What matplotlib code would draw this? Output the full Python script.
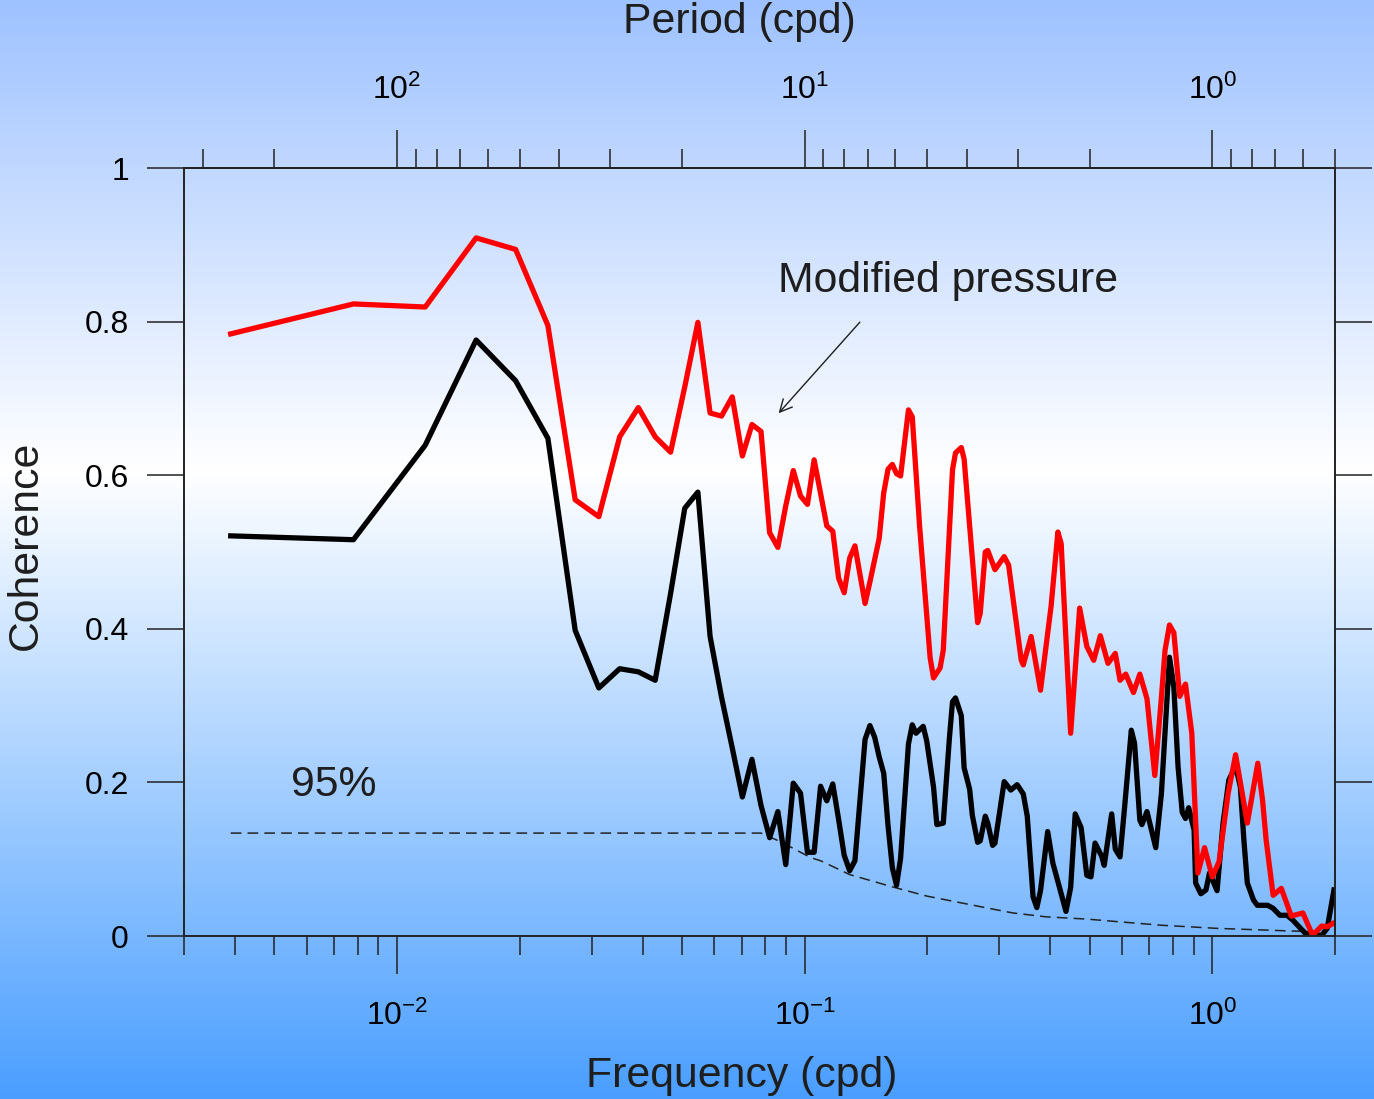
import numpy as np
import matplotlib
matplotlib.use("Agg")
import matplotlib.pyplot as plt
from matplotlib.ticker import FixedLocator, FuncFormatter, NullFormatter, LogFormatterSciNotation

plt.rcParams['font.family'] = ['Liberation Sans', 'DejaVu Sans']
plt.rcParams['mathtext.fontset'] = 'custom'
plt.rcParams['mathtext.rm'] = 'Liberation Sans'
plt.rcParams['mathtext.default'] = 'regular'
plt.rcParams['axes.unicode_minus'] = False

# spectral bins, frequency = k / 256 cpd
DF = 1.0 / 256

# modified pressure (red)
red_k = [1, 2, 3, 4, 5, 6, 7, 8, 9, 10, 11, 12, 13, 14, 15, 16, 17, 18, 19, 20,
         21, 22, 23, 24, 25, 26, 27, 29, 30, 31, 32, 33, 34, 36, 37, 39, 40, 41, 42, 43,
         44, 46, 47, 49, 52, 53, 55, 56, 59, 60, 62, 63, 68, 69, 71, 72, 75, 79, 81, 87,
         88, 92, 97, 103, 107, 109, 115, 121, 126, 131, 136, 142, 148, 152, 157, 164, 170, 177, 185, 192,
         196, 201, 206, 213, 220, 228, 236, 245, 256, 266, 280, 292, 312, 331, 340, 347, 361, 378, 400, 427,
         451, 475, 490, 509]
red_coh = [0.784, 0.823, 0.819, 0.909, 0.894, 0.795, 0.568, 0.546, 0.650, 0.688, 0.650, 0.630, 0.715, 0.799, 0.681, 0.677, 0.702, 0.625, 0.666, 0.657,
           0.525, 0.506, 0.560, 0.606, 0.573, 0.562, 0.620, 0.534, 0.527, 0.466, 0.447, 0.492, 0.508, 0.433, 0.461, 0.518, 0.577, 0.608, 0.614, 0.602,
           0.599, 0.685, 0.676, 0.533, 0.362, 0.336, 0.349, 0.372, 0.607, 0.629, 0.636, 0.621, 0.408, 0.420, 0.500, 0.502, 0.477, 0.494, 0.483, 0.359,
           0.353, 0.390, 0.320, 0.430, 0.526, 0.511, 0.264, 0.427, 0.377, 0.359, 0.391, 0.355, 0.368, 0.333, 0.341, 0.317, 0.341, 0.309, 0.209, 0.310,
           0.372, 0.405, 0.395, 0.312, 0.328, 0.264, 0.082, 0.115, 0.077, 0.097, 0.186, 0.236, 0.147, 0.225, 0.177, 0.125, 0.053, 0.062, 0.026, 0.030,
           0.001, 0.013, 0.012, 0.017]

# raw pressure (black)
blk_k = [1, 2, 3, 4, 5, 6, 7, 8, 9, 10, 11, 12, 13, 14, 15, 16, 17, 18, 19, 20,
         21, 22, 23, 24, 25, 26, 27, 28, 29, 30, 31, 32, 33, 34, 36, 37, 38, 39, 40, 41,
         42, 43, 44, 46, 47, 48, 50, 51, 53, 54, 56, 58, 59, 60, 62, 63, 65, 66, 68, 69,
         71, 72, 74, 75, 79, 82, 85, 88, 90, 93, 95, 97, 101, 104, 108, 112, 115, 118, 122, 126,
         129, 132, 137, 139, 145, 148, 152, 156, 162, 165, 170, 172, 177, 186, 192, 201, 206, 211, 216, 220,
         224, 231, 233, 240, 247, 252, 263, 272, 281, 292, 300, 306, 312, 323, 330, 350, 361, 375, 390, 403,
         418, 433, 460, 475, 490, 509]
blk_coh = [0.521, 0.516, 0.639, 0.776, 0.723, 0.648, 0.398, 0.323, 0.348, 0.344, 0.333, 0.446, 0.557, 0.578, 0.390, 0.311, 0.245, 0.181, 0.230, 0.170,
           0.128, 0.162, 0.093, 0.199, 0.186, 0.109, 0.109, 0.195, 0.176, 0.198, 0.152, 0.105, 0.085, 0.098, 0.256, 0.274, 0.259, 0.233, 0.212, 0.143,
           0.089, 0.066, 0.101, 0.250, 0.275, 0.264, 0.273, 0.254, 0.194, 0.145, 0.147, 0.259, 0.305, 0.310, 0.287, 0.219, 0.191, 0.157, 0.122, 0.124,
           0.156, 0.147, 0.118, 0.121, 0.201, 0.190, 0.197, 0.185, 0.156, 0.051, 0.037, 0.059, 0.136, 0.095, 0.063, 0.032, 0.063, 0.159, 0.141, 0.079,
           0.077, 0.121, 0.104, 0.092, 0.159, 0.113, 0.103, 0.168, 0.268, 0.251, 0.151, 0.145, 0.162, 0.115, 0.185, 0.363, 0.324, 0.220, 0.161, 0.153,
           0.167, 0.138, 0.069, 0.055, 0.060, 0.082, 0.059, 0.147, 0.203, 0.221, 0.194, 0.125, 0.069, 0.047, 0.040, 0.040, 0.036, 0.027, 0.027, 0.021,
           0.012, 0.0035, 0.001, 0.001, 0.010, 0.060]

# 95% significance level
sig_k = [1, 20, 22.5, 25, 26.5, 28, 33, 42, 51, 72.5, 83, 100, 126, 192, 262, 400, 480]
sig_coh = [0.134, 0.134, 0.122, 0.109, 0.102, 0.098, 0.080, 0.064, 0.052, 0.036, 0.030, 0.025, 0.022, 0.014, 0.010, 0.0065, 0.0056]

yticks = [0, 0.2, 0.4, 0.6, 0.8, 1.0]
period_major = [1, 10, 100]
period_minor = [0.5, 0.6, 0.7, 0.8, 0.9, 2, 3, 4, 5, 6, 7, 8, 9,
                20, 30, 40, 50, 60, 70, 80, 90, 200, 300]

red_f = np.array(red_k) * DF
blk_f = np.array(blk_k) * DF
sig_f = np.array(sig_k) * DF

W, H = 1374, 1099
fig = plt.figure(figsize=(W / 100, H / 100), dpi=100)

# background gradient (light blue -> white -> blue)
ys = np.arange(H)
stops = [0, 470, H - 1]
cols = np.array([[158, 194, 255], [255, 255, 255], [74, 158, 255]]) / 255.0
grad = np.stack([np.interp(ys, stops, cols[:, c]) for c in range(3)], axis=-1)[:, None, :]
bg = fig.add_axes([0, 0, 1, 1], zorder=-10)
bg.imshow(grad, aspect='auto', extent=[0, 1, 0, 1])
bg.axis('off')

ax = fig.add_axes([184 / W, 163 / H, (1335 - 184) / W, (936 - 168) / H])
ax.set_facecolor('none')
ax.set_xscale('log')
ax.set_xlim(0.003, 2.0)
ax.set_ylim(0, 1)

ax.plot(sig_f, sig_coh, color='#222222', lw=1.1, dashes=(7, 4))
ax.plot(blk_f, blk_coh, color='black', lw=3.8)
ax.plot(red_f, red_coh, color='#ff0000', lw=3.8)

axcol = '#222222'
for s in ax.spines.values():
    s.set_color(axcol)
    s.set_linewidth(1.4)

ax.yaxis.set_major_locator(FixedLocator(yticks))
ax.yaxis.set_major_formatter(FuncFormatter(lambda v, p: '%g' % v))
ax.tick_params(axis='y', which='major', direction='out', length=26.6, width=1.1,
               color=axcol, left=True, right=True, labelsize=23, pad=13)
ax.tick_params(axis='x', which='major', direction='out', length=27.4, width=1.1,
               color=axcol, labelsize=23, pad=19)
ax.tick_params(axis='x', which='minor', direction='out', length=13.7, width=1.1, color=axcol)
ax.xaxis.set_minor_formatter(NullFormatter())


def inv(x):
    x = np.array(x, float)
    with np.errstate(divide='ignore'):
        return 1.0 / x


sec = ax.secondary_xaxis('top', functions=(inv, inv))
sec.xaxis.set_major_locator(FixedLocator(period_major))
sec.xaxis.set_minor_locator(FixedLocator(period_minor))
sec.xaxis.set_major_formatter(LogFormatterSciNotation())
sec.xaxis.set_minor_formatter(NullFormatter())
sec.tick_params(axis='x', which='major', direction='out', length=27.4, width=1.1,
                color=axcol, labelsize=23, pad=17)
sec.tick_params(axis='x', which='minor', direction='out', length=13.7, width=1.1, color=axcol)
sec.spines['top'].set_color(axcol)
sec.spines['top'].set_linewidth(1.4)

tcol = '#1e1e1e'
ax.annotate('', xy=(0.0854, 0.678), xytext=(0.138, 0.802),
            arrowprops=dict(arrowstyle='->', lw=1.0, color=tcol, mutation_scale=22))
ax.text(0.0859, 0.853, 'Modified pressure', fontsize=30.8, color=tcol, ha='left', va='center')
ax.text(0.00549, 0.197, '95%', fontsize=30.8, color=tcol, ha='left', va='center')

fig.text(742 / W, 1 - 1076 / H, 'Frequency (cpd)', fontsize=30.8, color=tcol, ha='center', va='center')
fig.text(739 / W, 1 - 22 / H, 'Period (cpd)', fontsize=30.8, color=tcol, ha='center', va='center')
fig.text(26 / W, 1 - 545 / H, 'Coherence', fontsize=30.8, color=tcol, ha='center', va='center',
         rotation=90)

fig.savefig('out.png', dpi=100)
